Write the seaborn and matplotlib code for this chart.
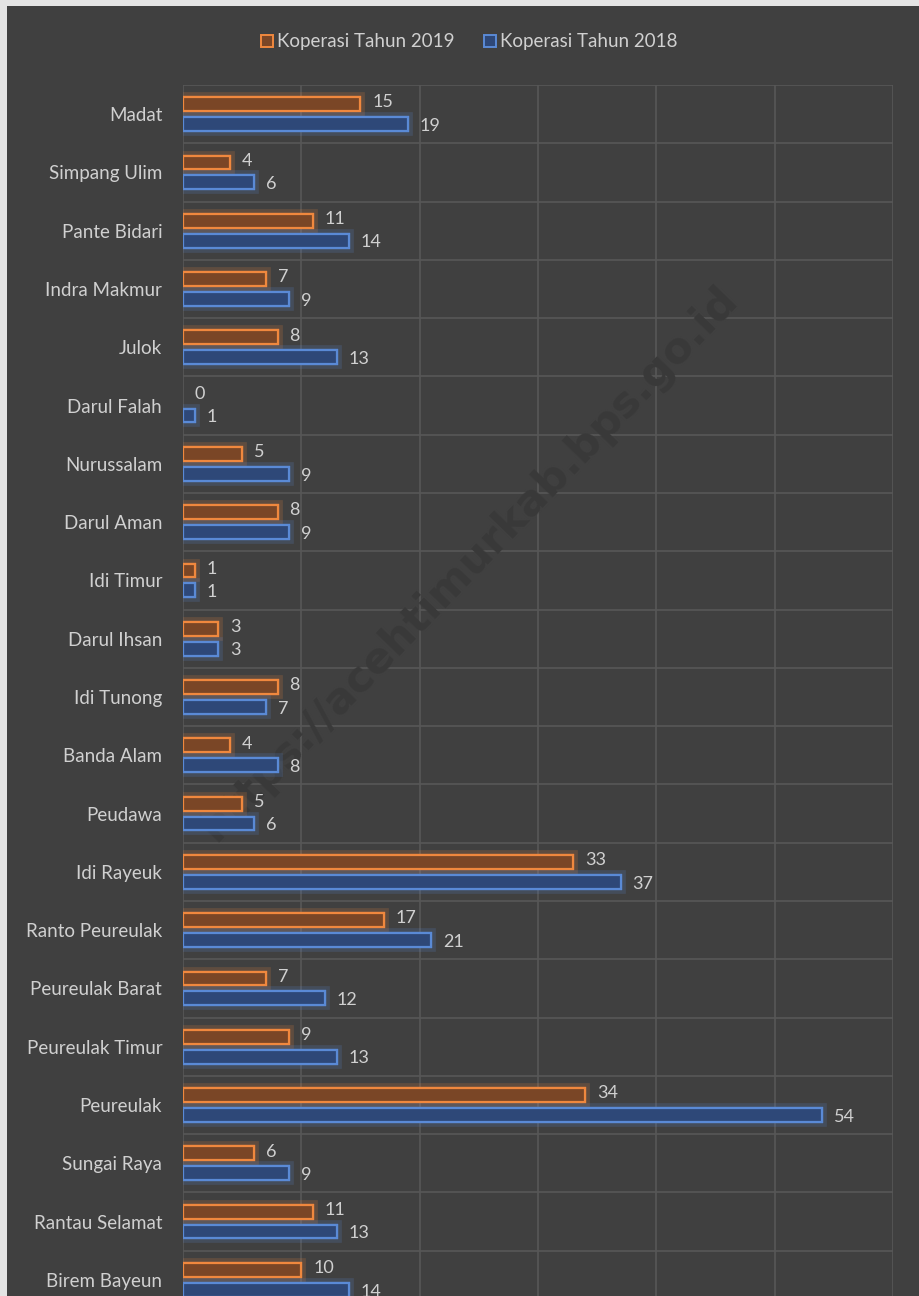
import matplotlib
matplotlib.use("Agg")
import matplotlib.pyplot as plt
import matplotlib.patheffects as pe
from matplotlib.patches import Rectangle, Patch
import pandas as pd
import seaborn as sns

kecamatan = ["Madat", "Simpang Ulim", "Pante Bidari", "Indra Makmur", "Julok",
             "Darul Falah", "Nurussalam", "Darul Aman", "Idi Timur", "Darul Ihsan",
             "Idi Tunong", "Banda Alam", "Peudawa", "Idi Rayeuk", "Ranto Peureulak",
             "Peureulak Barat", "Peureulak Timur", "Peureulak", "Sungai Raya",
             "Rantau Selamat", "Birem Bayeun"]
koperasi_2019 = [15, 4, 11, 7, 8, 0, 5, 8, 1, 3, 8, 4, 5, 33, 17, 7, 9, 34, 6, 11, 10]
koperasi_2018 = [19, 6, 14, 9, 13, 1, 9, 9, 1, 3, 7, 8, 6, 37, 21, 12, 13, 54, 9, 13, 14]
series = ["Koperasi Tahun 2019", "Koperasi Tahun 2018"]

df = pd.concat([
    pd.DataFrame({"Kecamatan": kecamatan, "Jumlah": koperasi_2019, "Seri": series[0]}),
    pd.DataFrame({"Kecamatan": kecamatan, "Jumlah": koperasi_2018, "Seri": series[1]}),
])

bg = "#404040"
grid_c = "#575757"
text_c = "#d0d0d0"
edge = {series[0]: "#f0883e", series[1]: "#5a8ad6"}
fill = {series[0]: "#7a4626", series[1]: "#2e4878"}

sns.set_theme(style="dark")
plt.rcParams["font.family"] = ["Lato", "DejaVu Sans"]

fig = plt.figure(figsize=(9.2, 12.96), dpi=100)
fig.patch.set_facecolor("#e4e4e4")
fig.add_artist(Rectangle((7 / 920, 0), 1, 1 - 6 / 1296, transform=fig.transFigure,
                         facecolor=bg, edgecolor="none", zorder=0))

ax = fig.add_axes([183 / 920, 1 - 1309 / 1296, 710 / 920, 1224 / 1296])
ax.set_facecolor(bg)

sns.barplot(data=df, y="Kecamatan", x="Jumlah", hue="Seri", orient="h",
            order=kecamatan, hue_order=series, width=0.68, gap=0.3,
            palette=fill, legend=False, ax=ax, zorder=3)

for cont, s in zip(ax.containers, series):
    for bar, v in zip(cont, cont.datavalues):
        bar.set_facecolor(fill[s])
        bar.set_edgecolor(edge[s])
        if v == 0:
            bar.set_linewidth(0)
            continue
        bar.set_linewidth(1.6)
        bar.set_path_effects([pe.withStroke(linewidth=7, foreground=edge[s], alpha=0.18),
                              pe.Normal()])
    dy = -0.03 if s == series[0] else 0.03
    for bar, v in zip(cont, cont.datavalues):
        ax.text(bar.get_width() + 1.0, bar.get_y() + bar.get_height() / 2 + dy,
                f"{int(v)}", color=text_c, fontsize=13, va="center", ha="left", zorder=4)

ax.set_xlim(0, 60)
ax.set_ylim(len(kecamatan) - 0.5, -0.5)
ax.set_xticks(range(0, 61, 10))
ax.set_xticklabels([])
ax.set_yticks(range(len(kecamatan)))
ax.set_yticklabels(kecamatan, color=text_c, fontsize=13.5)
ax.set_yticks([i + 0.5 for i in range(-1, len(kecamatan))], minor=True)
ax.tick_params(axis="y", which="both", length=0, pad=15)
ax.tick_params(axis="x", length=0)
ax.grid(False)
ax.grid(axis="x", which="major", color=grid_c, linewidth=1.2, zorder=1)
ax.grid(axis="y", which="minor", color=grid_c, linewidth=1.2, zorder=1)
ax.set_axisbelow(True)
for sp in ax.spines.values():
    sp.set_visible(False)
ax.set_xlabel("")
ax.set_ylabel("")

ax.text(0.51, 0.565, "https://acehtimurkab.bps.go.id", transform=fig.transFigure,
        rotation=46, ha="center", va="center", fontsize=31, fontweight="bold",
        color="#393939", zorder=2, family="DejaVu Sans")

handles = [Patch(facecolor=fill[s], edgecolor=edge[s], linewidth=1.4, label=s) for s in series]
leg = fig.legend(handles=handles, loc="center", bbox_to_anchor=(0.51, 1 - 42 / 1296),
                 ncol=2, frameon=False, fontsize=13.5, handlelength=0.65, handleheight=0.65,
                 handletextpad=0.2, columnspacing=1.6)
for t in leg.get_texts():
    t.set_color(text_c)

fig.savefig("out.png", dpi=100, facecolor=fig.get_facecolor())
